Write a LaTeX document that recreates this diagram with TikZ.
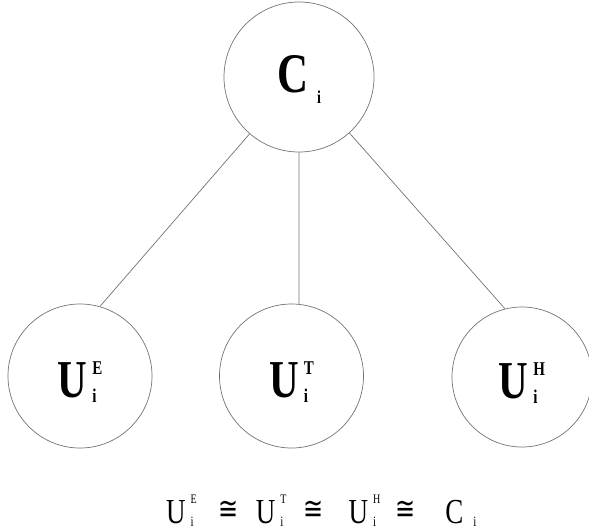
\documentclass[tikz,border=0pt]{standalone}
\usepackage{fontspec}
\setmainfont{Liberation Serif}
\newfontfamily\symfont{DejaVu Sans}
\usepackage{tikz}
\usetikzlibrary{calc}

% bold letter with stacked sub/superscript, as in the circles
\newcommand{\bigU}[1]{\scalebox{1}[1.3]{\fontsize{41}{41}\selectfont\bfseries U\hspace{5pt}%
  \rlap{\raisebox{-4pt}{\fontsize{15}{15}\selectfont i}}%
  \raisebox{17pt}{\fontsize{15}{15}\selectfont #1}}}
% the same, plain, for the line below
\newcommand{\smallU}[1]{U\hspace{5pt}%
  \rlap{\raisebox{-3pt}{\fontsize{11}{11}\selectfont i}}%
  \raisebox{15pt}{\fontsize{10}{10}\selectfont #1}}
\newcommand{\rel}{\raisebox{3pt}{\fontsize{24}{24}\selectfont\symfont ≅}}

\begin{document}
\begin{tikzpicture}[x=1pt,y=-1pt,
  ring/.style={circle,draw=black!55,line width=0.7pt,inner sep=0pt},
  unode/.style={ring,minimum size=144pt,text height=47pt,text depth=5pt},
  link/.style={draw=black!55,line width=0.7pt}]
  \useasboundingbox (0,0) rectangle (589,531);

  % top node
  \node[ring,minimum size=150pt,text height=38pt,text depth=8pt] (C) at (299,77)
    {\scalebox{1}[1.3]{\fontsize{43}{43}\selectfont\bfseries C\hspace{9pt}\raisebox{-9pt}{\fontsize{14}{14}\selectfont i}}};

  % lower nodes
  \node[unode] (UE) at (80,376) {\bigU{E}};
  \node[unode] (UT) at (291.5,376) {\bigU{T}};
  \node[unode,minimum size=140pt] (UH) at (522,377) {\bigU{H}};

  % edges
  \draw[link] (C.229) -- (UE.74);
  \draw[link] (C.south) -- (UT.84);
  \draw[link] (C.-48) -- (UH.104);

  % relation below
  \node[anchor=base west,inner sep=0pt] (rel) at (166,523)
    {\scalebox{1}[1.3]{\fontsize{27}{27}\selectfont
      \smallU{E}\hspace{22pt}\rel\hspace{17pt}\smallU{T}\hspace{17pt}\rel\hspace{25pt}%
      \smallU{H}\hspace{15pt}\rel\hspace{30pt}C\hspace{10pt}\raisebox{-3pt}{\fontsize{11}{11}\selectfont i}}};
\end{tikzpicture}
\end{document}
